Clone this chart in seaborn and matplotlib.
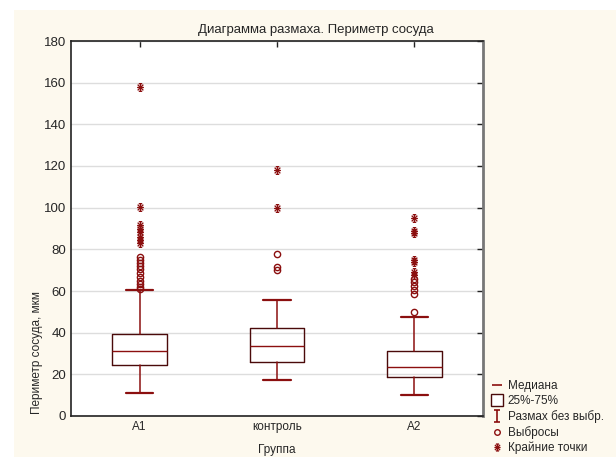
import numpy as np
import pandas as pd
import matplotlib
matplotlib.use('Agg')
import matplotlib.pyplot as plt
from matplotlib.path import Path
from matplotlib.lines import Line2D
from matplotlib.patches import Rectangle
import seaborn as sns

sns.set_style('white')
plt.rcParams['font.family'] = ['Liberation Sans', 'DejaVu Sans']

groups = ['A1', 'контроль', 'A2']

# box statistics
q1 = [24.7, 25.8, 18.6]
med = [31.0, 33.8, 23.5]
q3 = [39.2, 42.2, 31.1]
whis_lo = [11.0, 17.5, 10.1]
whis_hi = [60.5, 55.9, 47.5]

# outliers (circles) and extremes (stars)
outliers_a1 = [61.0, 62.0, 63.5, 65.0, 66.5, 68.5, 70.5, 72.0, 73.5, 75.0, 76.5]
outliers_ctrl = [69.9, 71.5, 77.8]
outliers_a2 = [50.0, 58.5, 60.5, 62.5, 64.5, 66.0]
extremes_a1 = [83.0, 84.5, 86.0, 88.5, 90.0, 91.5, 100.5, 158.0]
extremes_ctrl = [100.0, 118.0]
extremes_a2 = [67.5, 69.0, 74.0, 75.0, 88.0, 89.0, 95.0]

title = 'Диаграмма размаха. Периметр сосуда'
xlabel = 'Группа'
ylabel = 'Периметр сосуда, мкм'
legend_labels = ['Медиана', '25%-75%', 'Размах без выбр.', 'Выбросы', 'Крайние точки']

DARK = '#8b0f0f'
BOXC = '#4a0a0a'
CREAM = '#fdf9ee'

star = Path(
    [(-0.45, 1), (0.45, 1), (-0.45, -1), (0.45, -1), (0, -1), (0, 1),
     (-0.9, 0), (0.9, 0), (-0.75, -0.75), (0.75, 0.75), (-0.75, 0.75), (0.75, -0.75)],
    [Path.MOVETO, Path.LINETO] * 6)
ibar = Path(
    [(-0.5, 1), (0.5, 1), (0, 1), (0, -1), (-0.5, -1), (0.5, -1)],
    [Path.MOVETO, Path.LINETO] * 3)

fig = plt.figure(figsize=(6.16, 4.57), dpi=100, facecolor='white')
fig.patches.append(Rectangle((14 / 616, 0), 1, 1 - 10 / 457, transform=fig.transFigure,
                             facecolor=CREAM, edgecolor='none', zorder=-10))
ax = fig.add_axes([71 / 616, 1 - 416 / 457, 412 / 616, 375 / 457])
ax.set_facecolor('white')

stats = []
for i, g in enumerate(groups):
    stats.append(dict(label=g, q1=q1[i], med=med[i], q3=q3[i],
                      whislo=whis_lo[i], whishi=whis_hi[i], fliers=[]))
ax.bxp(stats, positions=range(len(groups)), widths=0.4, showfliers=False,
       boxprops=dict(color=BOXC, linewidth=1.0),
       medianprops=dict(color=DARK, linewidth=1.0),
       whiskerprops=dict(color=DARK, linewidth=1.1),
       capprops=dict(color=DARK, linewidth=1.6), capwidths=0.2)

pts = []
for g, vals in zip(groups, [outliers_a1, outliers_ctrl, outliers_a2]):
    pts += [(g, v, 'out') for v in vals]
for g, vals in zip(groups, [extremes_a1, extremes_ctrl, extremes_a2]):
    pts += [(g, v, 'ext') for v in vals]
df = pd.DataFrame(pts, columns=['group', 'value', 'kind'])
df['x'] = df['group'].map({g: i for i, g in enumerate(groups)})

out = df[df['kind'] == 'out']
ext = df[df['kind'] == 'ext']
ax.plot(out['x'], out['value'], linestyle='none', marker='o', markersize=4.5,
        markerfacecolor='none', markeredgecolor=DARK, markeredgewidth=1.0, zorder=4)
ax.plot(ext['x'], ext['value'], linestyle='none', marker=star, markersize=5.5,
        markerfacecolor='none', markeredgecolor=DARK, markeredgewidth=0.9, zorder=4)

ax.set_xlim(-0.5, 2.5)
ax.set_ylim(0, 180)
ax.set_xticks(range(len(groups)))
ax.set_xticklabels(groups, fontsize=8.5)
ax.set_yticks(np.arange(0, 181, 20))
ax.tick_params(axis='y', labelsize=9.5)
ax.tick_params(direction='in', top=True, right=True, length=4, width=1, color='#222222')
ax.yaxis.grid(True, color='#dddddd', linewidth=1)
ax.set_axisbelow(True)
for s in ax.spines.values():
    s.set_color('#222222')
    s.set_linewidth(1.2)
ax.spines['right'].set_color('#777777')
ax.spines['right'].set_linewidth(2)

ax.set_title(title, fontsize=9.5, pad=6, x=0.595)
ax.set_xlabel(xlabel, fontsize=8.5, labelpad=8)
ax.set_ylabel(ylabel, fontsize=8.5)
ax.yaxis.set_label_coords(-0.068, 0.17)

handles = [
    Line2D([], [], linestyle='none', marker='_', markersize=7, markeredgecolor=DARK, markeredgewidth=1.2),
    Line2D([], [], linestyle='none', marker='s', markersize=8, markerfacecolor='white',
           markeredgecolor=BOXC, markeredgewidth=1.0),
    Line2D([], [], linestyle='none', marker=ibar, markersize=8, markeredgecolor=DARK, markeredgewidth=1.2),
    Line2D([], [], linestyle='none', marker='o', markersize=4, markerfacecolor='none',
           markeredgecolor=DARK, markeredgewidth=1.0),
    Line2D([], [], linestyle='none', marker=star, markersize=5, markeredgecolor=DARK, markeredgewidth=0.9),
]
fig.legend(handles, legend_labels, loc='upper left', bbox_to_anchor=(484 / 616, 1 - 372 / 457),
           frameon=False, fontsize=8.5, handlelength=0.8, handletextpad=0.5,
           labelspacing=0.25, borderpad=0.2)

fig.savefig('out.png', dpi=100, facecolor=fig.get_facecolor())
